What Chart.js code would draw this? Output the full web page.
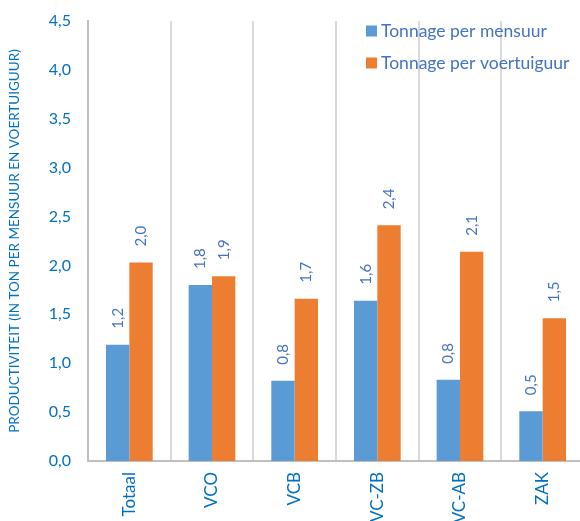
<!DOCTYPE html>
<html>
<head>
<meta charset="utf-8">
<script src="https://cdn.jsdelivr.net/npm/chart.js@4.4.0/dist/chart.umd.min.js"></script>
<style>
  html, body { margin: 0; padding: 0; background: #fff; overflow: hidden; }
  #wrap { width: 590px; height: 521px; }
</style>
</head>
<body>
<div id="wrap"><canvas id="myChart" width="590" height="521"></canvas></div>
<script>
// categories and series
var categories = ['Totaal', 'VCO', 'VCB', 'VC-ZB', 'VC-AB', 'ZAK'];
var perMensuur = [1.19, 1.80, 0.82, 1.64, 0.83, 0.51];
var perVoertuiguur = [2.03, 1.89, 1.66, 2.41, 2.14, 1.46];
var yTicks = [0, 0.5, 1, 1.5, 2, 2.5, 3, 3.5, 4, 4.5];

function komma(v) {
  return v.toFixed(1).replace('.', ',');
}

// value labels above the bars, rotated like in the original
var barLabels = {
  id: 'barLabels',
  afterDatasetsDraw: function(chart) {
    var ctx = chart.ctx;
    ctx.save();
    ctx.font = '15px Lato';
    ctx.fillStyle = '#4472C4';
    ctx.textAlign = 'left';
    ctx.textBaseline = 'middle';
    chart.data.datasets.forEach(function(ds, i) {
      chart.getDatasetMeta(i).data.forEach(function(bar, j) {
        ctx.save();
        ctx.translate(bar.x, bar.y - 16);
        ctx.rotate(-Math.PI / 2);
        ctx.fillText(komma(ds.data[j]), 0, 0);
        ctx.restore();
      });
    });
    ctx.restore();
  }
};

// legend sits inside the plot, top right
var innerLegend = {
  id: 'innerLegend',
  afterDraw: function(chart) {
    var ctx = chart.ctx;
    ctx.save();
    ctx.font = '17.5px Lato';
    ctx.textBaseline = 'middle';
    chart.data.datasets.forEach(function(ds, i) {
      var y = 31 + i * 32;
      ctx.fillStyle = ds.backgroundColor;
      ctx.fillRect(366, y - 5.5, 11, 11);
      ctx.fillStyle = '#4472C4';
      ctx.fillText(ds.label, 381, y);
    });
    ctx.restore();
  }
};

var ctx = document.getElementById('myChart');
var myChart = new Chart(ctx, {
  type: 'bar',
  data: {
    labels: categories,
    datasets: [
      {
        label: 'Tonnage per mensuur',
        data: perMensuur,
        backgroundColor: '#5B9BD5'
      },
      {
        label: 'Tonnage per voertuiguur',
        data: perVoertuiguur,
        backgroundColor: '#ED7D31'
      }
    ]
  },
  options: {
    responsive: false,
    animation: false,
    layout: { padding: { top: 21, right: 6, left: 0, bottom: 0 } },
    datasets: {
      bar: { categoryPercentage: 0.565, barPercentage: 1 }
    },
    plugins: {
      legend: { display: false },
      tooltip: { enabled: false }
    },
    scales: {
      x: {
        grid: { offset: true, color: '#D9D9D9', lineWidth: 2, drawTicks: false },
        border: { color: '#BFBFBF', width: 2 },
        ticks: {
          color: '#0070C0',
          font: { family: 'Lato', size: 17 },
          maxRotation: 90,
          minRotation: 90,
          autoSkip: false,
          padding: 11
        },
        afterFit: function(s) {
          s.height = 60;
          s.paddingLeft = 0;
          s.paddingRight = 0;
        }
      },
      y: {
        min: 0,
        max: 4.5,
        afterBuildTicks: function(s) {
          s.ticks = yTicks.map(function(v) { return { value: v }; });
        },
        grid: { display: false, drawTicks: false },
        border: { color: '#BFBFBF', width: 2 },
        ticks: {
          color: '#0070C0',
          font: { family: 'Lato', size: 16 },
          padding: 17,
          callback: function(v) { return komma(v); }
        },
        title: {
          display: true,
          text: 'PRODUCTIVITEIT (IN TON PER MENSUUR EN VOERTUIGUUR)',
          color: '#0070C0',
          font: { family: 'Lato', size: 13.5 },
          padding: { top: 7, bottom: 0 }
        },
        afterFit: function(s) {
          s.width = 88;
          s.paddingTop = 0;
          s.paddingBottom = 0;
        }
      }
    }
  },
  plugins: [barLabels, innerLegend]
});
</script>
</body>
</html>
